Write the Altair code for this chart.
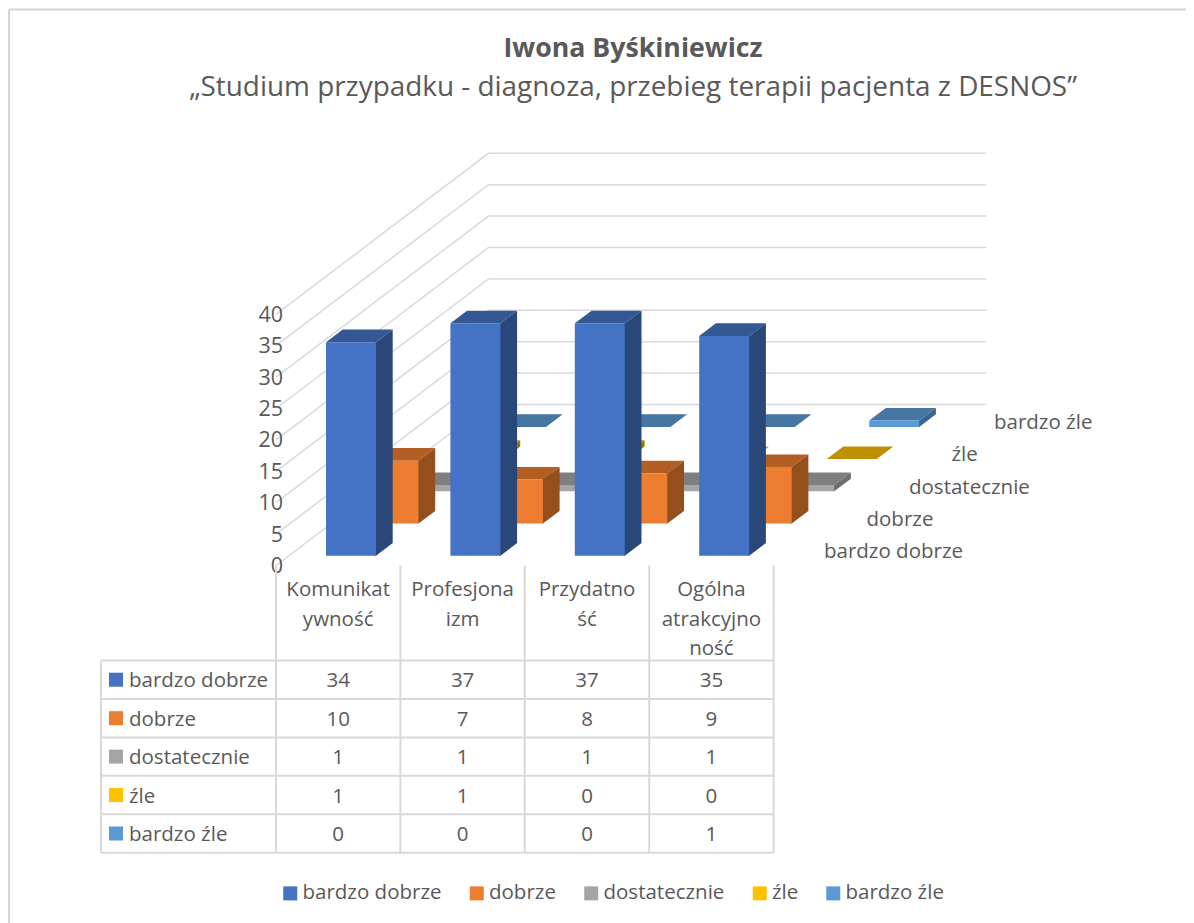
import altair as alt
import pandas as pd

# ---------- data ----------
series = ["bardzo dobrze", "dobrze", "dostatecznie", "źle", "bardzo źle"]
categories = [["Komunikat", "ywność"], ["Profesjona", "izm"], ["Przydatno", "ść"], ["Ogólna", "atrakcyjno", "ność"]]
bardzo_dobrze = [34, 37, 37, 35]
dobrze = [10, 7, 8, 9]
dostatecznie = [1, 1, 1, 1]
zle = [1, 1, 0, 0]
bardzo_zle = [0, 0, 0, 1]
values = [bardzo_dobrze, dobrze, dostatecznie, zle, bardzo_zle]
value_ticks = [0, 5, 10, 15, 20, 25, 30, 35, 40]
title_text = "Iwona Byśkiniewicz"
subtitle_text = "„Studium przypadku - diagnoza, przebieg terapii pacjenta z DESNOS”"

front_colors = ["#4472C4", "#ED7D31", "#A5A5A5", "#FFC000", "#5B9BD5"]
top_colors = ["#335894", "#B35E22", "#7F7F7F", "#BF9000", "#4676A2"]
side_colors = ["#2A4779", "#944F1D", "#6E6E6E", "#9A7500", "#3A6590"]
TEXT = "#595959"
GRID = "#D9D9D9"
FONT = "Open Sans"
FS = 20.5

# ---------- oblique projection of the 3D chart onto the page ----------
W, H = 1178, 915
UNIT = 6.28          # px per value unit
CAT_STEP = 124.4     # px between categories
DX, DY = 42.5, 32.2  # shift per series along depth
BAR_W = 50
BAR_DX, BAR_DY = 16.7, 12.6
SEAM = 1.0           # side face tucks under the front face so no seam shows
X0, Y0 = 326, 555.7
xs = alt.Scale(domain=[8, 8 + W], range=[0, W], zero=False, nice=False)
ys = alt.Scale(domain=[8, 8 + H], range=[0, H], zero=False, nice=False)
X = lambda f, **k: alt.X(f, type="quantitative", scale=xs, axis=None, title=None, **k)
Y = lambda f, **k: alt.Y(f, type="quantitative", scale=ys, axis=None, title=None, **k)


def bar_frames(s):
    fr, tp, sd = [], [], []
    for i, v in enumerate(values[s]):
        x = X0 + CAT_STEP * i + DX * s
        base = Y0 - DY * s
        top = base - v * UNIT
        if v > 0:
            fr.append(dict(series=series[s], cat=i, x=x, x2=x + BAR_W, y=top, y2=base))
            sd.append(dict(cat=i, x=x + BAR_W - SEAM, y=top, y2=base))
            sd.append(dict(cat=i, x=x + BAR_W, y=top, y2=base))
            sd.append(dict(cat=i, x=x + BAR_W + BAR_DX, y=top - BAR_DY, y2=base - BAR_DY))
        back = top - BAR_DY
        tp.append(dict(cat=i, x=x, y=top, y2=top))
        tp.append(dict(cat=i, x=x + BAR_DX, y=back, y2=top))
        tp.append(dict(cat=i, x=x + BAR_W, y=back, y2=top))
        tp.append(dict(cat=i, x=x + BAR_W + BAR_DX, y=back, y2=back))
    return pd.DataFrame(fr), pd.DataFrame(tp), pd.DataFrame(sd)


layers = []

# frame of the chart area
frame = pd.DataFrame([dict(x=9, x2=1186, y=9.5, y2=9.5), dict(x=9, x2=9, y=9.5, y2=923)])
layers.append(alt.Chart(frame).mark_rule(color="#D4D4D4", strokeWidth=2).encode(
    x=X("x"), x2="x2", y=Y("y"), y2="y2"))

# walls
rows = []
back_x = 276 + DX * 5
for t in value_ticks:
    h = t * UNIT
    rows += [dict(t=t, k=0, x=276, y=565.5 - h),
             dict(t=t, k=1, x=back_x, y=565.5 - DY * 5 - h),
             dict(t=t, k=2, x=back_x + CAT_STEP * 4, y=565.5 - DY * 5 - h)]
layers.append(alt.Chart(pd.DataFrame(rows)).mark_line(color=GRID, strokeWidth=1.5).encode(
    x=X("x"), y=Y("y"), detail="t:N", order="k:Q"))

# bars, back to front
legend = alt.Legend(title=None, orient="none", legendX=272, legendY=875, direction="horizontal",
                    columns=5, symbolType="square", symbolSize=196, symbolStrokeWidth=0,
                    labelFont=FONT, labelFontSize=FS, labelColor=TEXT, columnPadding=24.5,
                    labelOffset=2, symbolOpacity=1, labelLimit=300)
colour = alt.Color("series:N", scale=alt.Scale(domain=series, range=front_colors), legend=legend)
for s in range(4, -1, -1):
    fr, tp, sd = bar_frames(s)
    layers.append(alt.Chart(tp).mark_area(color=top_colors[s], opacity=1).encode(
        x=X("x"), y=Y("y"), y2="y2", detail="cat:N"))
    layers.append(alt.Chart(sd).mark_area(color=side_colors[s], opacity=1).encode(
        x=X("x"), y=Y("y"), y2="y2", detail="cat:N"))
    layers.append(alt.Chart(fr).mark_rect(opacity=1).encode(
        x=X("x"), x2="x2", y=Y("y"), y2="y2", color=colour))

# value axis labels
tick_df = pd.DataFrame([dict(label=str(t), x=283, y=567 - t * UNIT) for t in value_ticks])
layers.append(alt.Chart(tick_df).mark_text(font=FONT, fontSize=21.5, color=TEXT, align="right", baseline="middle").encode(
    x=X("x"), y=Y("y"), text="label:N"))

# depth axis labels
depth_df = pd.DataFrame([dict(label=n, x=824 + DX * s, y=552 - DY * s) for s, n in enumerate(series)])
layers.append(alt.Chart(depth_df).mark_text(font=FONT, fontSize=FS, color=TEXT, align="left", baseline="middle").encode(
    x=X("x"), y=Y("y"), text="label:N"))

# data table
col_edges = [276 + CAT_STEP * i for i in range(5)]
row_edges = [660.5 + 38.45 * i for i in range(6)]
lines = [dict(x=col_edges[i], x2=col_edges[i], y=565.5, y2=row_edges[-1]) for i in range(5)]
lines += [dict(x=101, x2=101, y=row_edges[0], y2=row_edges[-1])]
lines += [dict(x=101, x2=col_edges[-1], y=r, y2=r) for r in row_edges]
layers.append(alt.Chart(pd.DataFrame(lines)).mark_rule(color=GRID, strokeWidth=2).encode(
    x=X("x"), x2="x2", y=Y("y"), y2="y2"))

cat_rows, val_rows, head_rows = [], [], []
for i, parts in enumerate(categories):
    cx = col_edges[i] + CAT_STEP / 2
    for j, part in enumerate(parts):
        cat_rows.append(dict(label=part, x=cx, y=590 + 29.6 * j))
    for s in range(5):
        val_rows.append(dict(label=str(values[s][i]), x=cx, y=(row_edges[s] + row_edges[s + 1]) / 2 + 1.5))
for s, n in enumerate(series):
    head_rows.append(dict(label=n, series=n, x=129, sx=116, ty=(row_edges[s] + row_edges[s + 1]) / 2 + 1.5,
                          y=(row_edges[s] + row_edges[s + 1]) / 2))
layers.append(alt.Chart(pd.DataFrame(cat_rows + val_rows)).mark_text(
    font=FONT, fontSize=FS, color=TEXT, align="center", baseline="middle").encode(
    x=X("x"), y=Y("y"), text="label:N"))
head = pd.DataFrame(head_rows)
layers.append(alt.Chart(head).mark_text(font=FONT, fontSize=FS, color=TEXT, align="left", baseline="middle").encode(
    x=X("x"), y=Y("ty"), text="label:N"))
layers.append(alt.Chart(head).mark_point(shape="square", filled=True, size=196, opacity=1, strokeWidth=0).encode(
    x=X("sx"), y=Y("y"), color=colour))

chart = alt.layer(*layers).properties(
    width=W, height=H,
    padding=0,
    background="white",
    autosize=alt.AutoSizeParams(type="none"),
    title=alt.TitleParams(
        text=title_text, subtitle=subtitle_text, anchor="middle", frame="group",
        font=FONT, fontSize=26.7, fontWeight="bold", color=TEXT,
        subtitleFont=FONT, subtitleFontSize=27.9, subtitleColor=TEXT, subtitlePadding=11,
        dx=36, dy=94, offset=0),
).configure_view(stroke=None)

chart.save("out.html", embed_options={"renderer": "svg", "actions": False})
